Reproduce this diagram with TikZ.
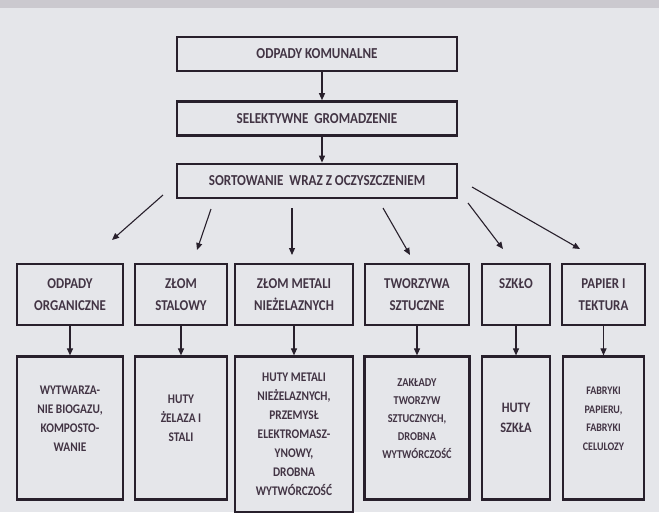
\documentclass[tikz,border=0pt]{standalone}
\usepackage{fontspec}
\setmainfont{Carlito}[FakeStretch=0.86]
\usepackage{tikz}
\usetikzlibrary{arrows.meta,positioning}
\definecolor{scanbg}{RGB}{229,230,234}
\definecolor{scantop}{RGB}{203,201,207}
\definecolor{inkline}{RGB}{40,32,44}
\definecolor{inktext}{RGB}{66,52,68}

\begin{document}
\begin{tikzpicture}[
    x=1pt, y=-1pt,
    box/.style={
      draw=inkline,
      line width=2.4pt,
      align=center,
      text=inktext,
      inner sep=2pt
    },
    stage/.style={box, font=\bfseries\fontsize{15.2}{16}\selectfont,
      minimum width=280pt, minimum height=34pt},
    kind/.style={box, font=\bfseries\fontsize{15}{22}\selectfont,
      minimum height=61pt, anchor=north},
    plant/.style={box, font=\bfseries\fontsize{13.2}{19}\selectfont,
      minimum height=143pt},
    arrow/.style={-{Triangle[length=7pt,width=6pt]}, line width=1.1pt, draw=inkline}
  ]
    % scanned page
    \fill[scanbg] (0,0) rectangle (659,512);
    \fill[scantop] (0,0) rectangle (659,8);
    \useasboundingbox (0,0) rectangle (659,512);

    \node[stage] (kom) at (317,54) {ODPADY KOMUNALNE};
    \node[stage, below=28pt of kom] (sel) {SELEKTYWNE\ \ GROMADZENIE};
    \node[stage, below=26pt of sel] (sort)
      {SORTOWANIE\ \ WRAZ Z OCZYSZCZENIEM};

    \node[kind, minimum width=106pt] (org) at (70,263) {ODPADY\\ORGANICZNE};
    \node[kind, minimum width=92pt] (stal) at (181,263) {ZŁOM\\STALOWY};
    \node[kind, minimum width=118pt] (met) at (294,263)
      {ZŁOM METALI\\NIEŻELAZNYCH};
    \node[kind, minimum width=104pt] (tw) at (417,263) {TWORZYWA\\SZTUCZNE};
    \node[kind, minimum width=68pt] (szk) at (516,263) {SZKŁO\\\mbox{}};
    \node[kind, minimum width=83pt] (pap) at (603.5,263) {PAPIER I\\TEKTURA};

    \node[plant, minimum width=106pt, below=29pt of org] (org2)
      {WYTWARZA-\\NIE BIOGAZU,\\KOMPOSTO-\\WANIE\\\mbox{}};
    \node[plant, minimum width=92pt, below=29pt of stal] (stal2)
      {HUTY\\ŻELAZA I\\STALI\\\mbox{}};
    \node[plant, minimum width=118pt, minimum height=156pt,
      below=29pt of met] (met2)
      {HUTY METALI\\NIEŻELAZNYCH,\\PRZEMYSŁ\\ELEKTROMASZ-\\YNOWY,\\DROBNA\\WYTWÓRCZOŚĆ};
    \node[plant, minimum width=105pt, font=\bfseries\fontsize{12}{18}\selectfont,
      below=29pt of tw] (tw2)
      {ZAKŁADY\\TWORZYW\\SZTUCZNYCH,\\DROBNA\\WYTWÓRCZOŚĆ\\\mbox{}};
    \node[plant, minimum width=68pt, font=\bfseries\fontsize{14.4}{20}\selectfont,
      below=29pt of szk] (szk2) {HUTY\\SZKŁA\\\mbox{}};
    \node[plant, minimum width=81pt, font=\bfseries\fontsize{11.6}{18.5}\selectfont,
      below=29pt of pap] (pap2) {FABRYKI\\PAPIERU,\\FABRYKI\\CELULOZY\\\mbox{}};

    \draw[arrow] ([xshift=5pt]kom.south) -- ([xshift=5pt]sel.north);
    \draw[arrow] ([xshift=5pt]sel.south) -- ([xshift=5pt]sort.north);

    % loose arrows under the sorting box
    \coordinate (t1) at (163,195); \coordinate (h1) at (112,240);
    \coordinate (t2) at (211,209); \coordinate (h2) at (197,250);
    \coordinate (t3) at (292,208); \coordinate (h3) at (292,255);
    \coordinate (t4) at (383,208); \coordinate (h4) at (410,255);
    \coordinate (t5) at (468,203); \coordinate (h5) at (503,249);
    \coordinate (t6) at (472,187); \coordinate (h6) at (580,249);
    \foreach \i in {1,...,6}
      \draw[arrow] (t\i) -- (h\i);

    \foreach \a/\b in {org/org2, stal/stal2, met/met2, tw/tw2, szk/szk2, pap/pap2}
      \draw[arrow] (\a) -- (\b);
  \end{tikzpicture}
\end{document}
